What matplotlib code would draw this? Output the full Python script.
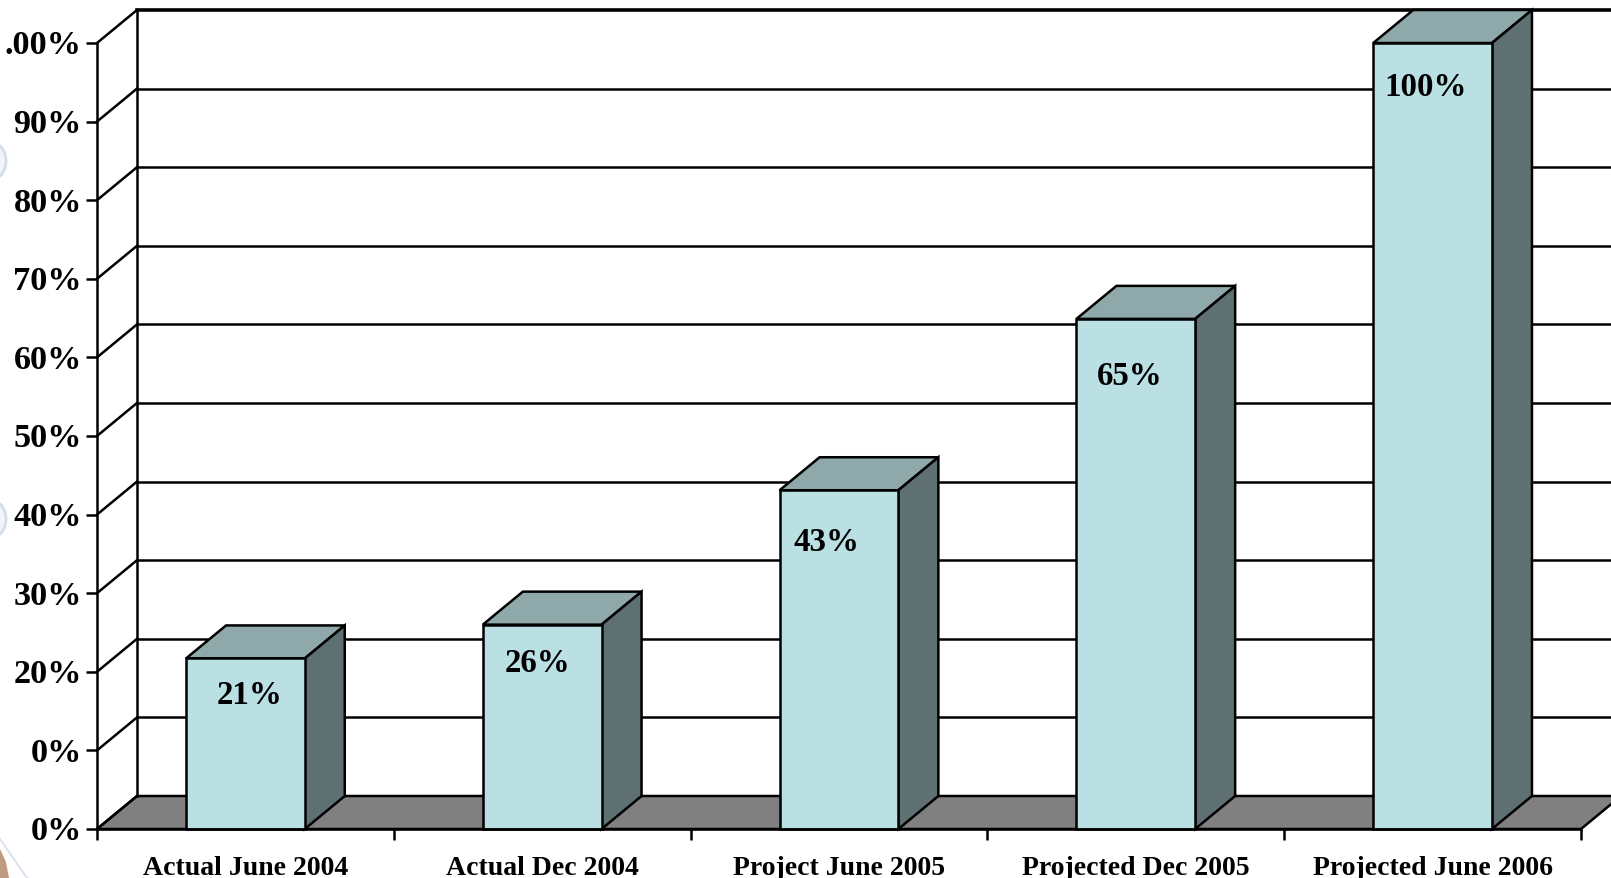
"""Projected completion, drawn as a fake 3D column chart."""

import matplotlib

matplotlib.use("Agg")
import matplotlib.pyplot as plt
from matplotlib.lines import Line2D
from matplotlib.patches import Ellipse, Polygon
from matplotlib.transforms import IdentityTransform, ScaledTranslation

plt.rcParams["font.family"] = ["Liberation Serif", "DejaVu Serif"]
plt.rcParams["font.weight"] = "bold"

CATEGORIES = [
    "Actual June 2004",
    "Actual Dec 2004",
    "Project June 2005",
    "Projected Dec 2005",
    "Projected June 2006",
]
BAR_VALUES = [21.7, 26, 43.1, 64.9, 100]
BAR_LABELS = ["21%", "26%", "43%", "65%", "100%"]
Y_TICKS = [0, 10, 20, 30, 40, 50, 60, 70, 80, 90, 100]
# the left side of the source is cut off, so these read as they appear
Y_TICK_LABELS = ["0%", "0%", "20%", "30%", "40%", "50%", "60%", "70%", "80%", "90%", ".00%"]
# label offset from the top middle of each bar, in pixels
LABEL_OFFSETS = [(4, -36), (-5, -38), (-13, -51), (-6, -57), (-7, -44)]

WIDTH, HEIGHT = 1611, 879
LEFT, RIGHT = 97, 1581
BASE, TOP = 830, 44
DEPTH_PX, RISE_PX = 40, 33
LW = 1.8

FACE = "#bae0e3"
TOP_FACE = "#8fa8aa"
SIDE_FACE = "#5f7072"
FLOOR = "#808080"


def add_background_scraps(fig) -> None:
    # bits of the slide background showing at the left edge
    to_px = IdentityTransform()
    for y in (HEIGHT - 162, HEIGHT - 520):
        fig.add_artist(
            Ellipse(
                (-9, y),
                30,
                38,
                facecolor="#f2f4f9",
                edgecolor="#d5dcec",
                linewidth=2,
                transform=to_px,
            )
        )
    fig.add_artist(
        Line2D([0, 27], [HEIGHT - 840, 0], color="#dbe4ee", lw=1.5, transform=to_px)
    )
    fig.add_artist(
        Polygon(
            [(0, HEIGHT - 850), (6, 16), (9, 0), (0, 0)],
            facecolor="#c09a80",
            edgecolor="none",
            transform=to_px,
        )
    )


def main() -> None:
    fig = plt.figure(figsize=(WIDTH / 100, HEIGHT / 100), dpi=100)
    ax = fig.add_axes([0, 0, 1, 1])
    n = len(CATEGORIES)
    x_px = (RIGHT - LEFT) / n
    y_px = (BASE - TOP) / 100
    ax.set_xlim(-LEFT / x_px, (WIDTH - LEFT) / x_px)
    ax.set_ylim((BASE - HEIGHT) / y_px, BASE / y_px)
    depth = DEPTH_PX / x_px
    rise = RISE_PX / y_px

    # floor and back wall
    ax.add_patch(
        Polygon(
            [(0, 0), (n, 0), (n + depth, rise), (depth, rise)],
            facecolor=FLOOR,
            edgecolor="black",
            linewidth=LW,
            zorder=1,
        )
    )
    ax.plot([depth, depth], [rise, 100 + rise], color="black", lw=LW, zorder=1)
    ax.plot([0, depth], [100, 100 + rise], color="black", lw=LW, zorder=1)
    for tick in Y_TICKS[:-1]:
        ax.plot([0, depth], [tick, tick + rise], color="black", lw=LW, zorder=1)
    for tick in Y_TICKS[1:]:
        ax.plot(
            [depth, n + depth],
            [tick + rise, tick + rise],
            color="black",
            lw=2.6 if tick == 100 else LW,
            zorder=1,
        )

    centers = [i + 0.5 for i in range(n)]
    bars = ax.bar(
        centers,
        BAR_VALUES,
        width=0.4,
        color=FACE,
        edgecolor="black",
        linewidth=LW,
        zorder=3,
    )
    for bar, label, offset in zip(bars, BAR_LABELS, LABEL_OFFSETS):
        x0, x1, h = bar.get_x(), bar.get_x() + bar.get_width(), bar.get_height()
        ax.add_patch(
            Polygon(
                [(x0, h), (x1, h), (x1 + depth, h + rise), (x0 + depth, h + rise)],
                facecolor=TOP_FACE,
                edgecolor="black",
                linewidth=LW,
                zorder=2,
                clip_on=False,
            )
        )
        ax.add_patch(
            Polygon(
                [(x1, 0), (x1 + depth, rise), (x1 + depth, h + rise), (x1, h)],
                facecolor=SIDE_FACE,
                edgecolor="black",
                linewidth=LW,
                zorder=2,
            )
        )
        ax.annotate(
            label,
            (bar.get_x() + bar.get_width() / 2, h),
            xytext=offset,
            textcoords="offset pixels",
            ha="center",
            va="center",
            fontsize=23.7,
            color="black",
            zorder=4,
        )

    for side in ("top", "right"):
        ax.spines[side].set_visible(False)
    ax.spines["left"].set_position(("data", 0))
    ax.spines["left"].set_bounds(0, 100)
    ax.spines["bottom"].set_position(("data", 0))
    ax.spines["bottom"].set_bounds(0, n)
    ax.spines["left"].set_linewidth(LW)
    ax.spines["bottom"].set_linewidth(LW)
    ax.spines["left"].set_zorder(5)
    ax.spines["bottom"].set_zorder(5)

    ax.set_yticks(Y_TICKS)
    ax.set_yticklabels(Y_TICK_LABELS, fontsize=24.7)
    ax.tick_params(axis="y", length=8, width=LW, pad=2.8)
    nudge = ScaledTranslation(0, 1.5 / fig.dpi, fig.dpi_scale_trans)
    for tick_label in ax.get_yticklabels():
        tick_label.set_transform(tick_label.get_transform() + nudge)
    ax.set_xticks(range(n + 1))
    ax.set_xticklabels([])
    ax.tick_params(axis="x", which="major", length=8, width=LW)
    ax.set_xticks(centers, minor=True)
    ax.set_xticklabels(CATEGORIES, minor=True, fontsize=20)
    ax.tick_params(axis="x", which="minor", length=0, pad=18.7)

    add_background_scraps(fig)
    fig.savefig("out.png", dpi=100)


main() if __name__ == "__main__" else None
